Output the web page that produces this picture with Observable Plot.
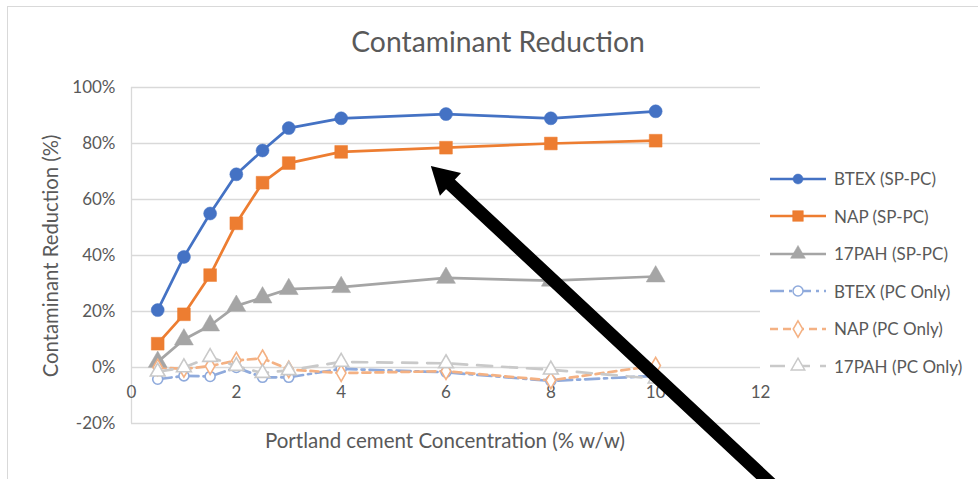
<!DOCTYPE html>
<html>
<head>
<meta charset="utf-8">
<script src="https://cdn.jsdelivr.net/npm/d3@7"></script>
<script src="https://cdn.jsdelivr.net/npm/@observablehq/plot@0.6"></script>
<style>
  html, body { margin: 0; padding: 0; background: #fff; }
  #wrap { position: relative; width: 978px; height: 479px; overflow: hidden; background: #fff; font-family: Lato, "Open Sans", sans-serif; color: #595959; }
  #frame { position: absolute; left: 7px; top: 6px; width: 1000px; height: 500px; border: 1.5px solid #d9d9d9; box-sizing: border-box; }
  #title { position: absolute; left: 0; width: 996px; top: 24px; text-align: center; font-size: 28.3px; }
  #ytitle { position: absolute; left: 50px; top: 256px; transform: translate(-50%, -50%) rotate(-90deg); white-space: nowrap; font-size: 20.3px; }
  #xtitle { position: absolute; left: 445px; top: 440px; transform: translate(-50%, -50%); white-space: nowrap; font-size: 20.5px; }
  #chart { position: absolute; left: 0; top: 0; }
  #legend { position: absolute; left: 768px; top: 160px; }
  .lg { display: flex; align-items: center; height: 37.5px; font-size: 17px; white-space: nowrap; }
  .lg svg { margin-right: 6px; }
</style>
</head>
<body>
<div id="wrap">
  <div id="frame"></div>
  <div id="chart"></div>
  <div id="title">Contaminant Reduction</div>
  <div id="ytitle">Contaminant Reduction (%)</div>
  <div id="xtitle">Portland cement Concentration (% w/w)</div>
  <div id="legend"></div>
</div>
<script>
// ---- data ----
const conc = [0.5, 1, 1.5, 2, 2.5, 3, 4, 6, 8, 10];
const btexSP = [20.5, 39.5, 55, 69, 77.5, 85.5, 89, 90.5, 89, 91.5];
const napSP  = [8.5, 19, 33, 51.5, 66, 73, 77, 78.5, 80, 81];
const pahSP  = [2, 10, 15, 22, 25, 28, 28.7, 32, 31, 32.5];
const btexPC = [-4.2, -3, -3.2, 0, -3.5, -3.5, -0.5, -1.7, -4.8, -3];
const napPC  = [0, -0.5, 0.5, 2.5, 3.3, -0.7, -2, -1.3, -4.6, 0.7];
const pahPC  = [-1.5, 0, 3.7, 0.5, -2, -1, 2, 1.5, -0.8, -4];
const seriesNames = ["BTEX (SP-PC)", "NAP (SP-PC)", "17PAH (SP-PC)", "BTEX (PC Only)", "NAP (PC Only)", "17PAH (PC Only)"];
const xTicks = [0, 2, 4, 6, 8, 10, 12];
const yTicks = [-20, 0, 20, 40, 60, 80, 100];
// annotation arrow (data units): tail -> tip
const arrowTail = [12.57, -48];
const arrowTip = [5.72, 71.8];

// ---- styles ----
const styles = [
  {stroke: "#4472C4", dash: null, symbol: "circle", r: 6.5, fill: "#4472C4", lr: 5},
  {stroke: "#ED7D31", dash: null, symbol: "square", r: 7.2, fill: "#ED7D31", lr: 6},
  {stroke: "#A5A5A5", dash: null, symbol: "triangle", r: 7, fill: "#A5A5A5", lr: 5.5},
  {stroke: "#8FAADC", dash: "14,5,3,5", symbol: "circle", r: 5, fill: "#fff", lr: 5},
  {stroke: "#F4B183", dash: "8,5", symbol: "diamond", r: 5, fill: "#fff", lr: 5},
  {stroke: "#C9C9C9", dash: "15,10", symbol: "triangle", r: 5.5, fill: "#fff", lr: 5}
];
const values = [btexSP, napSP, pahSP, btexPC, napPC, pahPC];
const series = seriesNames.map((name, i) => ({
  name, ...styles[i],
  data: conc.map((x, j) => ({x, y: values[i][j]}))
}));

const marks = [
  Plot.ruleY(yTicks, {stroke: "#d9d9d9", strokeWidth: 1.3}),
  Plot.ruleX([0], {y1: -20, y2: 100, stroke: "#d9d9d9", strokeWidth: 1.3}),
  Plot.text(xTicks, {x: d => d, y: 0, dy: 25, text: d => String(d), fill: "#595959", fontSize: 17}),
];
for (const s of series) {
  marks.push(Plot.line(s.data, {x: "x", y: "y", stroke: s.stroke, strokeWidth: 2.7, strokeDasharray: s.dash ?? undefined}));
}
for (const s of series) {
  marks.push(Plot.dot(s.data, {x: "x", y: "y", symbol: s.symbol, r: s.r, fill: s.fill, stroke: s.stroke, strokeWidth: s.fill === "#fff" ? 1.6 : 0.5}));
}
// arrow annotation
marks.push(Plot.arrow([{x1: arrowTail[0], y1: arrowTail[1], x2: arrowTip[0], y2: arrowTip[1]}],
  {x1: "x1", y1: "y1", x2: "x2", y2: "y2", stroke: "#000", strokeWidth: 13, headLength: 0, insetEnd: 22}));
marks.push(Plot.dot([{x: arrowTip[0], y: arrowTip[1]}],
  {x: "x", y: "y", symbol: "triangle", r: 11.5, fill: "#000", rotate: -47, dx: 12.6, dy: 11.8}));

const chart = Plot.plot({
  width: 978, height: 479,
  marginLeft: 131, marginRight: 218, marginTop: 87, marginBottom: 56,
  x: {domain: [0, 12], axis: null},
  y: {domain: [-20, 100], ticks: yTicks, tickFormat: d => d + "%", tickSize: 0, tickPadding: 16, label: null},
  style: {fontFamily: "Lato, 'Open Sans', sans-serif", fontSize: "17px", color: "#595959", background: "transparent"},
  marks
});
document.getElementById("chart").appendChild(chart);

// legend
const lg = d3.select("#legend");
for (const s of series) {
  const row = lg.append("div").attr("class", "lg");
  const svg = row.append("svg").attr("width", 60).attr("height", 20);
  svg.append("line").attr("x1", 2).attr("x2", 58).attr("y1", 10).attr("y2", 10)
    .attr("stroke", s.stroke).attr("stroke-width", 2.7).attr("stroke-dasharray", s.dash);
  const sym = {circle: d3.symbolCircle, square: d3.symbolSquare, triangle: d3.symbolTriangle, diamond: d3.symbolDiamond}[s.symbol];
  svg.append("path").attr("transform", "translate(30,10)")
    .attr("d", d3.symbol(sym, s.lr * s.lr * Math.PI)())
    .attr("fill", s.fill).attr("stroke", s.stroke).attr("stroke-width", s.fill === "#fff" ? 1.5 : 0.5);
  row.append("span").text(s.name);
}
</script>
</body>
</html>
